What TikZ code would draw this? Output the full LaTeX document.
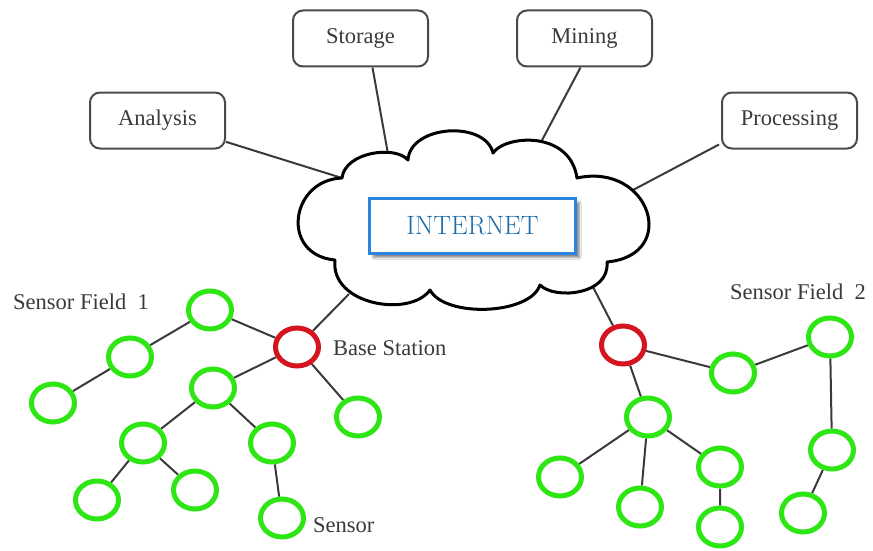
\documentclass[tikz,border=0pt]{standalone}
\usepackage{fontspec}
\newfontfamily\tms{Liberation Serif}
\usetikzlibrary{shapes.geometric,shadows,shadows.blur,backgrounds}

\definecolor{edgegray}{HTML}{3A3A3A}
\definecolor{boxgray}{HTML}{4A4A4A}
\definecolor{txtgray}{HTML}{3A3A3A}
\definecolor{sgreen}{HTML}{2EE614}
\definecolor{bred}{HTML}{D4141E}
\definecolor{netblue}{HTML}{2A84E0}
\definecolor{nettext}{HTML}{1B6CA8}

\begin{document}
\begin{tikzpicture}[x=1pt,y=-1pt,
  svc/.style={draw=boxgray,line width=2pt,rounded corners=10pt,fill=white,
    minimum width=135pt,minimum height=56pt,inner sep=0pt,
    font=\tms\fontsize{22.5}{27}\selectfont,text=txtgray},
  sensor/.style={ellipse,draw=sgreen,line width=5pt,fill=white,
    minimum width=43pt,minimum height=38pt,inner sep=0pt,
    drop shadow={shadow xshift=1.5pt,shadow yshift=-1.5pt,opacity=.25}},
  base/.style={sensor,draw=bred},
  link/.style={draw=edgegray,line width=2pt},
  lbl/.style={anchor=west,inner sep=0pt,font=\tms\fontsize{22.5}{27}\selectfont,text=txtgray}]

\useasboundingbox (0,0) rectangle (873,551);

% service boxes
\node[svc] (an) at (157.5,120.5) {Analysis};
\node[svc] (st) at (360.5,38.5) {Storage};
\node[svc] (mi) at (584.5,38.5) {Mining};
\node[svc] (pr) at (789.5,120.5) {Processing};

% cloud outline
\draw[line width=3pt,fill=white,line join=round]
  (342,178) .. controls (345,152) and (395,145) .. (408,160)
  .. controls (410,125) and (485,120) .. (493,153)
  .. controls (505,135) and (570,130) .. (577,178)
  .. controls (650,162) and (680,255) .. (607,262)
  .. controls (610,295) and (555,300) .. (540,285)
  .. controls (530,315) and (445,318) .. (430,290)
  .. controls (410,318) and (330,305) .. (335,260)
  .. controls (280,255) and (290,180) .. cycle;

\coordinate (cA) at (342,178);
\coordinate (cS) at (388,154);
\coordinate (cM) at (540,144);
\coordinate (cP) at (633,190);
\coordinate (cL) at (349,294);
\coordinate (cR) at (593,287);

\node[draw=netblue,line width=3pt,fill=white,minimum width=206pt,minimum height=55pt,
  inner sep=0pt,text=nettext,font=\fontsize{26.5}{30}\selectfont,
  blur shadow={shadow xshift=4pt,shadow yshift=-4pt,shadow blur steps=6,shadow opacity=45}]
  (net) at (472.5,226) {INTERNET};

% sensor field 1
\node[sensor] (a1) at (210,310) {};
\node[sensor] (a2) at (130,357) {};
\node[sensor] (a3) at (53,403) {};
\node[base]   (bsA) at (297,347) {};
\node[sensor] (a4) at (213,388) {};
\node[sensor] (a5) at (358,417) {};
\node[sensor] (a6) at (143,443) {};
\node[sensor] (a7) at (272,443) {};
\node[sensor] (a8) at (97,500) {};
\node[sensor] (a9) at (195,490) {};
\node[sensor] (a10) at (282,518) {};

% sensor field 2
\node[base]   (bsB) at (623,345) {};
\node[sensor] (b1) at (733,373) {};
\node[sensor] (b2) at (830,337) {};
\node[sensor] (b3) at (648,417) {};
\node[sensor] (b4) at (560,477) {};
\node[sensor] (b5) at (640,507) {};
\node[sensor] (b6) at (720,467) {};
\node[sensor] (b7) at (720,527) {};
\node[sensor] (b8) at (832,450) {};
\node[sensor] (b9) at (803,513) {};

% labels
\node[lbl] (lf1) at (13,302) {Sensor Field\ \ 1};
\node[lbl] (lbs) at (333,348) {Base Station};
\node[lbl] (lsn) at (313,525) {Sensor};
\node[lbl] (lf2) at (730,292) {Sensor Field\ \ 2};

% connectors
\begin{pgfonlayer}{background}
  \draw[link] (an) -- (cA);
  \draw[link] ([xshift=12pt]st.south) -- (cS);
  \draw[link] ([xshift=-4pt]mi.south) -- (cM);
  \draw[link] ([shift={(-2pt,5pt)}]pr.south west) -- (cP);
  \draw[link] (bsA) -- (cL);
  \draw[link] (bsB) -- (cR);
  \draw[link] (a1) -- (a2) (a2) -- (a3) (a1) -- (bsA) (bsA) -- (a4) (bsA) -- (a5)
              (a4) -- (a6) (a4) -- (a7) (a6) -- (a8) (a6) -- (a9) (a7) -- (a10);
  \draw[link] (bsB) -- (b1) (b1) -- (b2) (b2) -- (b8) (b8) -- (b9) (bsB) -- (b3)
              (b3) -- (b4) (b3) -- (b5) (b3) -- (b6) (b6) -- (b7);
\end{pgfonlayer}
\end{tikzpicture}
\end{document}
